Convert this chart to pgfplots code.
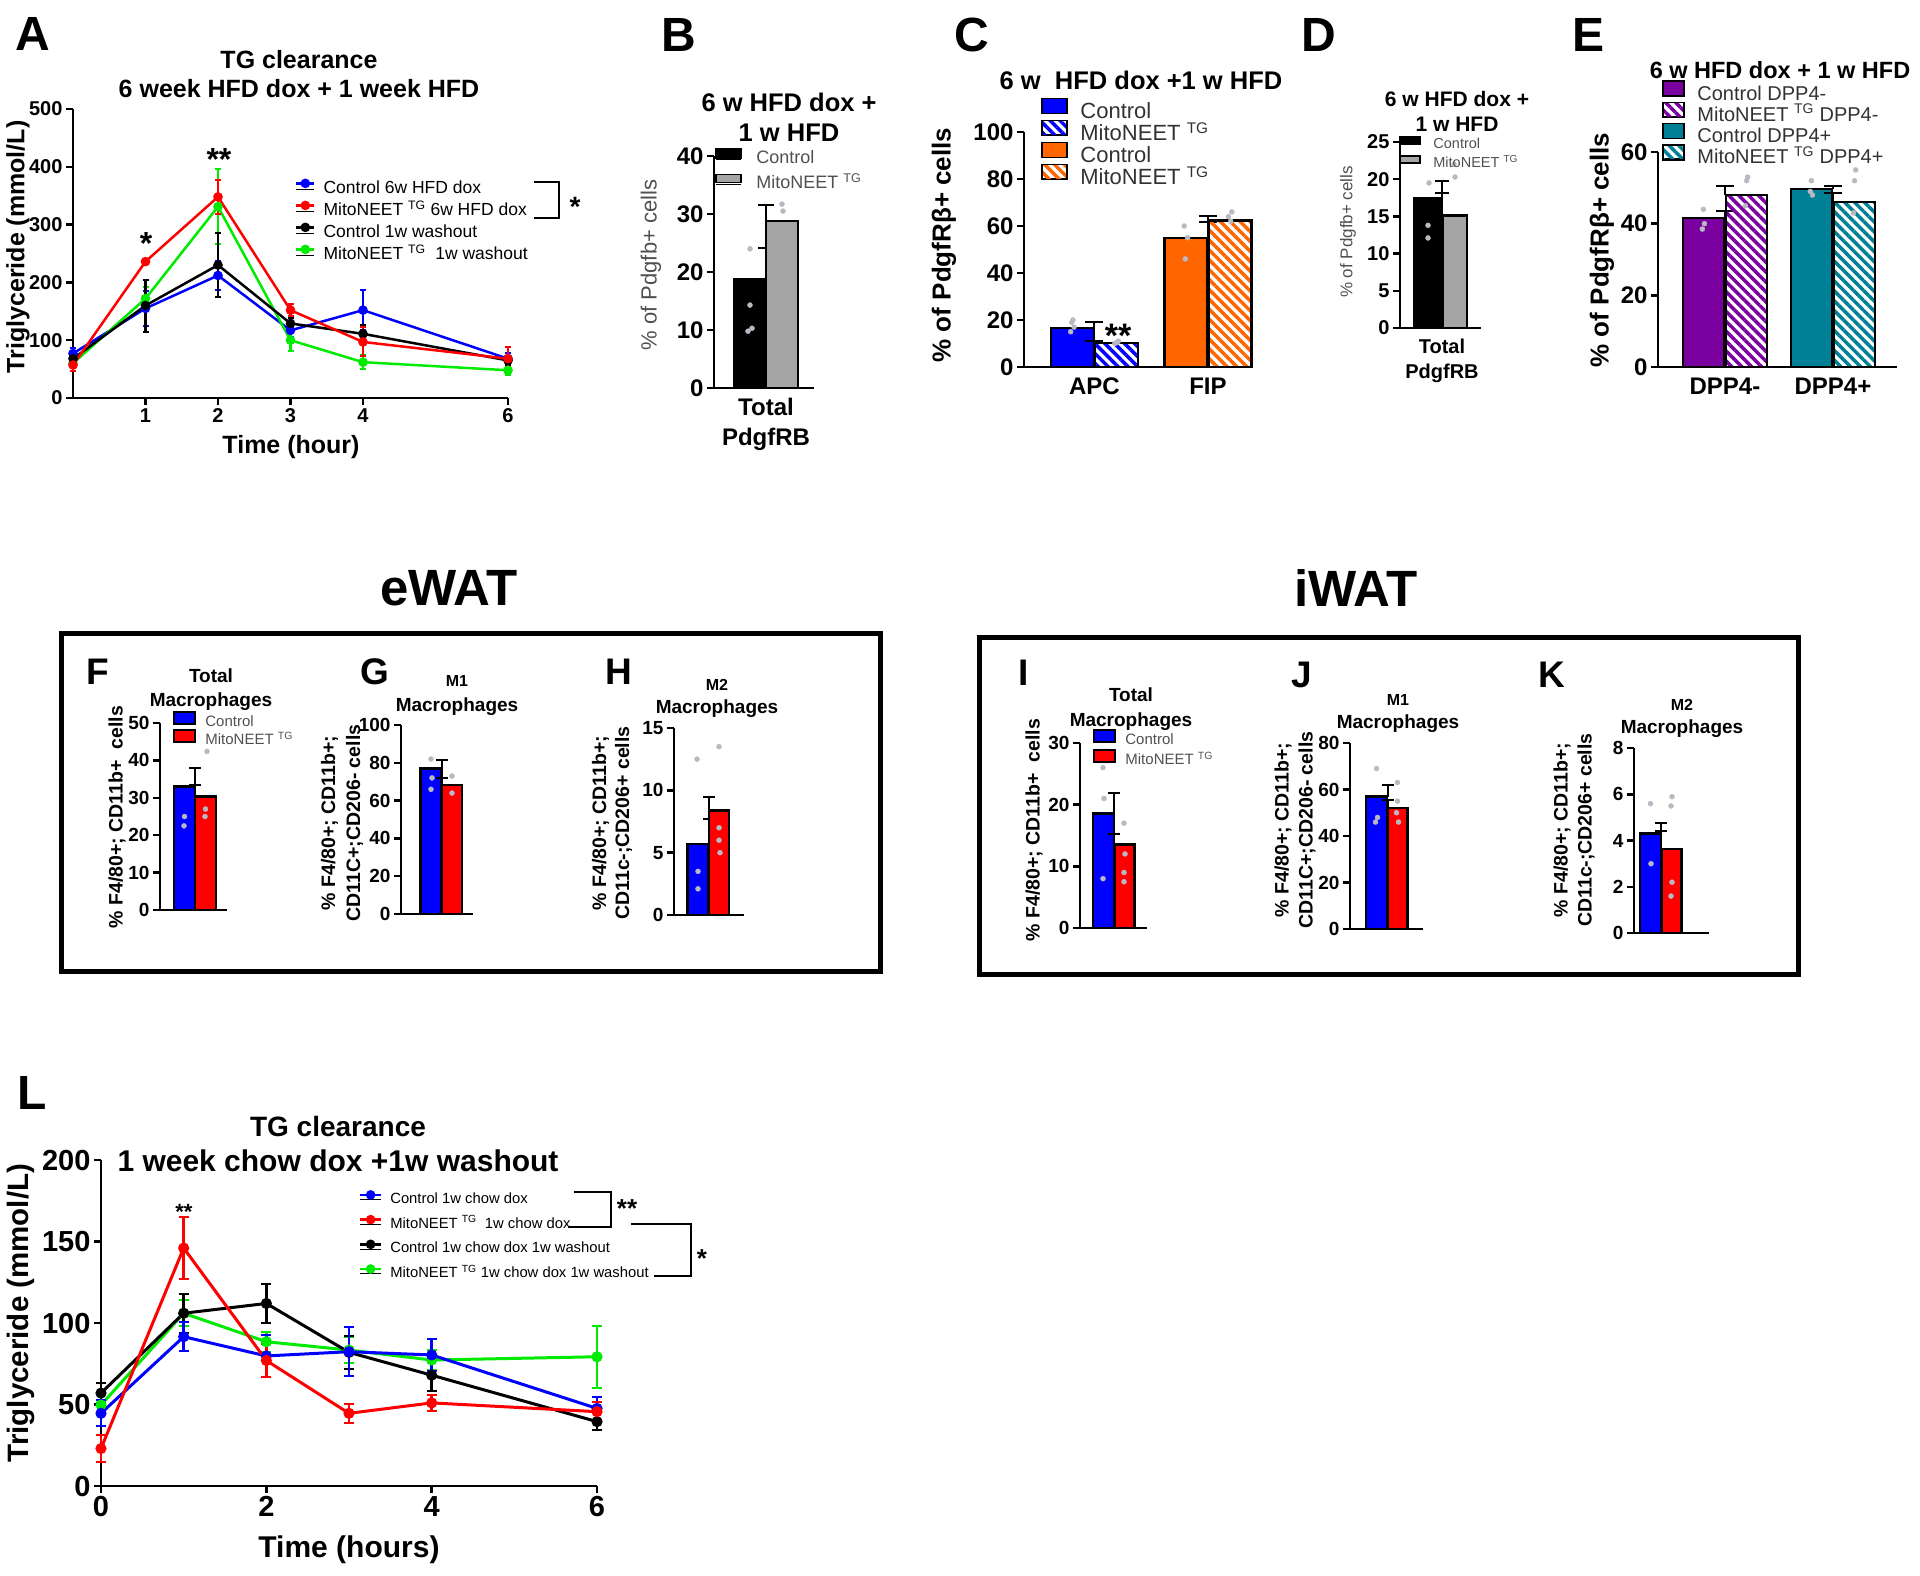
\documentclass[border=0pt]{standalone}
\usepackage{pgfplots}
\pgfplotsset{compat=1.18}
\usepackage{fontspec}
\setmainfont{Liberation Sans}
\usetikzlibrary{patterns.meta}

\definecolor{cblue}{RGB}{0,0,255}
\definecolor{cred}{RGB}{255,0,0}
\definecolor{cgreen}{RGB}{0,235,0}
\definecolor{corange}{RGB}{255,102,0}
\definecolor{cpurple}{RGB}{122,0,160}
\definecolor{cteal}{RGB}{0,128,150}
\definecolor{cgray}{RGB}{165,165,165}
\definecolor{dotc}{RGB}{185,185,195}
\definecolor{lgtxt}{RGB}{80,80,80}
\definecolor{lgdark}{RGB}{50,50,50}

\newcommand{\fz}[2]{\fontsize{#1}{#2}\selectfont}
% legend box: width, ybottom, ytop, style (drawn as overlay so rows depend on text only)
\newcommand{\lgbox}[4]{\addlegendimage{legend image code/.code={\path (0pt,0pt) -- (#1,0pt); \draw[overlay,line width=1.5pt,draw=black,#4] (0pt,#2) rectangle (#1,#3);}}}
% legend line: width, y, style
\newcommand{\lgline}[3]{\addlegendimage{legend image code/.code={\path (0pt,0pt) -- (#1,0pt); \draw[overlay,#3] (0pt,#2) -- (#1,#2); \fill[overlay,#3] (#1/2,#2) circle (3.5pt);}}}

\tikzset{hatch/.style={pattern={Lines[angle=-45,distance=7pt,line width=3.5pt]}, pattern color=#1}}

\pgfplotsset{
  gp/.style={anchor=south west, ymin=0, clip=false,
    axis x line*=bottom, axis y line*=left,
    axis line style={line width=2.5pt, black},
    tick style={line width=2.5pt, black},
    tick align=outside, major tick length=7pt,
    /pgf/number format/assume math mode=true,
    scaled ticks=false},
  gpbar/.style={gp, xtick={0}, xtick style={draw=none}},
  eb/.style={error bars/.cd, y dir=plus, y explicit,
    error bar style={line width=2pt, black},
    error mark options={rotate=90, line width=2pt, black, mark size=#1}},
  ebl/.style={error bars/.cd, y dir=both, y explicit,
    error bar style={line width=2.5pt},
    error mark options={rotate=90, line width=2pt, mark size=#1}},
  lg/.style 2 args={legend style={at={(#1,#2)}, anchor=north west, draw=none, fill=none,
    inner sep=0pt, outer sep=0pt}, legend cell align=left},
  lgfont/.style n args={5}{legend style={font=#1, row sep=#2, nodes={inner sep=0pt, text height=#3, text depth=#4},
    /tikz/every odd column/.append style={column sep=#5}}},
  dots/.style={only marks, mark=*, mark size=2.5pt, color=dotc, forget plot},
  bb/.style n args={3}{ybar, bar width=#1, bar shift=#2, draw=black, line width=2.5pt, forget plot, #3},
}

\begin{document}
\begin{tikzpicture}
\useasboundingbox (0pt,0pt) rectangle (1920pt,-1575pt);

% ---------------- panel letters ----------------
\begin{scope}[every node/.style={font=\bfseries\fz{48}{52}}]
\node at (33pt,-34pt) {A};
\node at (679pt,-35pt) {B};
\node at (972pt,-35pt) {C};
\node at (1319pt,-35pt) {D};
\node at (1588pt,-35pt) {E};
\node at (32pt,-1093pt) {L};
\end{scope}
\begin{scope}[every node/.style={font=\bfseries\fz{37}{40}}]
\node at (98pt,-672pt) {F};
\node at (375pt,-672pt) {G};
\node at (619pt,-672pt) {H};
\node at (1024pt,-673pt) {I};
\node at (1302pt,-675pt) {J};
\node at (1552pt,-675pt) {K};
\end{scope}

% ---------------- Panel A ----------------
\node[align=center, font=\bfseries\fz{25}{29}] at (299pt,-74pt) {TG clearance\\6 week HFD dox + 1 week HFD};
\node[rotate=90, font=\bfseries\fz{25}{28}] at (18pt,-247pt) {Triglyceride (mmol/L)};
\node[font=\bfseries\fz{25}{28}] at (291pt,-447pt) {Time (hour)};
\begin{axis}[gp, at={(73pt,-398pt)}, x=72.5pt, y=0.578pt, xmin=0, xmax=6, ymax=500,
  xtick={1,2,3,4,6}, ytick={0,100,...,500},
  tick label style={font=\bfseries\fz{20}{24}},
  lg={0.513}{0.753}, lgfont={\fz{17.5}{20}}{5pt}{13pt}{4pt}{9pt}]
\lgline{18pt}{5.5pt}{cblue, line width=2.5pt}\addlegendentry{Control 6w HFD dox}
\lgline{18pt}{5.5pt}{cred, line width=2.5pt}\addlegendentry{MitoNEET \textsuperscript{TG} 6w HFD dox}
\lgline{18pt}{5.5pt}{black, line width=2.5pt}\addlegendentry{Control 1w washout}
\lgline{18pt}{5.5pt}{cgreen, line width=2.5pt}\addlegendentry{MitoNEET \textsuperscript{TG}\ \ 1w washout}
\addplot[cblue, line width=2.5pt, mark=*, mark size=3.5pt, forget plot, ebl=3pt] coordinates {
 (0,77) +- (0,10) (1,155) +- (0,30) (2,212) +- (0,25) (3,117) +- (0,12) (4,152) +- (0,35) (6,68) +- (0,10)};
\addplot[cgreen, line width=2.5pt, mark=*, mark size=3.5pt, forget plot, ebl=3pt] coordinates {
 (0,60) +- (0,8) (1,172) +- (0,20) (2,331) +- (0,65) (3,100) +- (0,18) (4,62) +- (0,12) (6,48) +- (0,8)};
\addplot[black, line width=2.5pt, mark=*, mark size=3.5pt, forget plot, ebl=3pt] coordinates {
 (0,68) +- (0,8) (1,160) +- (0,45) (2,230) +- (0,55) (3,129) +- (0,10) (4,111) +- (0,15) (6,65) +- (0,8)};
\addplot[cred, line width=2.5pt, mark=*, mark size=3.5pt, forget plot, ebl=3pt] coordinates {
 (0,57) +- (0,10) (1,236) +- (0,5) (2,348) +- (0,30) (3,152) +- (0,10) (4,97) +- (0,25) (6,68) +- (0,20)};
\end{axis}
\draw[line width=2pt] (534pt,-182pt) -- (559pt,-182pt) -- (559pt,-218pt) -- (534pt,-218pt);
\node[font=\bfseries\fz{28}{30}] at (575pt,-207pt) {*};
\node[font=\bfseries\fz{32}{34}] at (146pt,-243pt) {*};
\node[font=\bfseries\fz{32}{34}] at (219pt,-159pt) {**};

% ---------------- Panel B ----------------
\node[align=center, font=\bfseries\fz{25.5}{30}] at (789pt,-117pt) {6 w HFD dox +\\1 w HFD};
\node[rotate=90, text=lgtxt, font=\fz{22}{26}] at (651pt,-265pt) {\% of Pdgfb+ cells};
\begin{axis}[gpbar, at={(714pt,-388pt)}, x=100pt, y=5.8pt, xmin=-0.52, xmax=0.48, ymax=40,
  ytick={0,10,...,40}, xticklabels={{Total\\PdgfRB}},
  xticklabel style={align=center, font=\bfseries\fz{24}{30}},
  yticklabel style={font=\bfseries\fz{24}{28}},
  lg={0.02}{1.024}, lgfont={\color{lgtxt}\fz{18}{20}}{8pt}{13pt}{4pt}{15pt}]
\lgbox{25pt}{0.4pt}{10.4pt}{fill=black}\addlegendentry{Control}
\lgbox{25pt}{1.4pt}{9.4pt}{fill=cgray}\addlegendentry{MitoNEET \textsuperscript{TG}}
\addplot[bb={32pt}{-16pt}{fill=black}, eb=8pt] coordinates {(0,18.8) +- (0,5.3)};
\addplot[bb={32pt}{16pt}{fill=cgray}, eb=8pt] coordinates {(0,28.8) +- (0,2.7)};
\addplot[dots] coordinates {(-0.16,14.3) (-0.18,9.8) (-0.14,10.3) (-0.16,24) (0.16,31.7) (0.17,30.5)};
\end{axis}

% ---------------- Panel C ----------------
\node[font=\bfseries\fz{25.5}{28}] at (1141pt,-80pt) {6 w\ \ HFD dox +1 w HFD};
\node[rotate=90, font=\bfseries\fz{26}{28}] at (944pt,-245pt) {\% of PdgfRβ+ cells};
\begin{axis}[gpbar, at={(1024pt,-367pt)}, x=113.5pt, y=2.35pt, xmin=-0.621, xmax=1.388, ymax=100,
  ytick={0,20,...,100}, xtick={0,1}, xticklabels={APC,FIP},
  tick label style={font=\bfseries\fz{24}{28}},
  lg={0.079}{1.121}, lgfont={\color{lgdark}\fz{22}{24}}{4pt}{15pt}{3pt}{13pt}]
\lgbox{25pt}{-0.9pt}{14.1pt}{fill=cblue}\addlegendentry{Control}
\lgbox{25pt}{-0.9pt}{14.1pt}{hatch=cblue}\addlegendentry{MitoNEET \textsuperscript{TG}}
\lgbox{25pt}{-0.9pt}{14.1pt}{fill=corange}\addlegendentry{Control}
\lgbox{25pt}{-0.9pt}{14.1pt}{hatch=corange}\addlegendentry{MitoNEET \textsuperscript{TG}}
\addplot[bb={43pt}{-22pt}{fill=cblue}, eb=9pt] coordinates {(0,16.6) +- (0,2.4)};
\addplot[bb={43pt}{22pt}{hatch=cblue}, eb=9pt] coordinates {(0,10.2) +- (0,1)};
\addplot[bb={43pt}{-22pt}{fill=corange}, eb=9pt] coordinates {(1,55) +- (0,6.5)};
\addplot[bb={43pt}{22pt}{hatch=corange}, eb=9pt] coordinates {(1,62.3) +- (0,2)};
\addplot[dots] coordinates {(-0.21,15) (-0.18,17) (-0.2,19) (-0.19,20) (0.18,10) (0.21,11) (0.2,10.5)
  (0.8,46) (0.82,55) (0.79,60) (1.2,62) (1.18,64) (1.21,66)};
\end{axis}
\node[font=\bfseries\fz{34}{36}] at (1118pt,-336pt) {**};

% ---------------- Panel D ----------------
\node[align=center, font=\bfseries\fz{21}{25}] at (1457pt,-111pt) {6 w HFD dox +\\1 w HFD};
\node[rotate=90, text=lgtxt, font=\fz{17}{20}] at (1348pt,-232pt) {\% of Pdgfb+ cells};
\begin{axis}[gpbar, at={(1400pt,-328pt)}, x=100pt, y=7.44pt, xmin=-0.42, xmax=0.39, ymax=25,
  ytick={0,5,...,25}, xticklabels={{Total\\PdgfRB}},
  xticklabel style={align=center, font=\bfseries\fz{20}{25}},
  yticklabel style={font=\bfseries\fz{20}{24}},
  lg={0}{1.022}, lgfont={\color{lgtxt}\fz{14.5}{16}}{5.5pt}{10.5pt}{3pt}{13pt}]
\lgbox{20pt}{0.9pt}{7.9pt}{fill=black}\addlegendentry{Control}
\lgbox{20pt}{0.9pt}{7.9pt}{fill=cgray}\addlegendentry{MitoNEET \textsuperscript{TG}}
\addplot[bb={28pt}{-14pt}{fill=black}, eb=7pt] coordinates {(0,17.5) +- (0,2.3)};
\addplot[bb={24pt}{13pt}{fill=cgray}, eb=7pt] coordinates {(0,15.1) +- (0,3.0)};
\addplot[dots] coordinates {(-0.14,13.8) (-0.14,12.1) (-0.13,19.5) (0.13,20.3) (0.12,22)};
\end{axis}

% ---------------- Panel E ----------------
\node[font=\bfseries\fz{23.5}{26}] at (1780pt,-70pt) {6 w HFD dox + 1 w HFD};
\node[rotate=90, font=\bfseries\fz{26}{28}] at (1602pt,-250pt) {\% of PdgfRβ+ cells};
\begin{axis}[gpbar, at={(1658pt,-367pt)}, x=108pt, y=3.583pt, xmin=-0.62, xmax=1.59, ymax=60,
  ytick={0,20,40,60}, xtick={0,1}, xticklabels={DPP4-,DPP4+},
  tick label style={font=\bfseries\fz{24}{28}},
  lg={0.021}{1.307}, lgfont={\color{lgdark}\fz{20}{22}}{4.3pt}{14pt}{3pt}{13pt}]
\lgbox{21pt}{-1.5pt}{13.5pt}{fill=cpurple}\addlegendentry{Control DPP4-}
\lgbox{21pt}{-1.5pt}{13.5pt}{hatch=cpurple}\addlegendentry{MitoNEET \textsuperscript{TG} DPP4-}
\lgbox{21pt}{-1.5pt}{13.5pt}{fill=cteal}\addlegendentry{Control DPP4+}
\lgbox{21pt}{-1.5pt}{13.5pt}{hatch=cteal}\addlegendentry{MitoNEET \textsuperscript{TG} DPP4+}
\addplot[bb={41pt}{-21.5pt}{fill=cpurple}, eb=9pt] coordinates {(0,41.6) +- (0,2)};
\addplot[bb={41pt}{21.5pt}{hatch=cpurple}, eb=9pt] coordinates {(0,48) +- (0,2.5)};
\addplot[bb={41pt}{-21.5pt}{fill=cteal}, eb=9pt] coordinates {(1,49.7) +- (0,0.8)};
\addplot[bb={41pt}{21.5pt}{hatch=cteal}, eb=9pt] coordinates {(1,46) +- (0,2.5)};
\addplot[dots] coordinates {(-0.2,44) (-0.19,40) (-0.21,38.5) (0.2,52) (0.19,45) (0.21,53)
  (0.8,52) (0.79,49) (0.81,48) (1.2,52) (1.21,55) (1.19,43)};
\end{axis}

% ---------------- eWAT / iWAT boxes ----------------
\node[font=\bfseries\fz{51}{54}] at (449pt,-588pt) {eWAT};
\node[font=\bfseries\fz{51}{54}] at (1356pt,-588pt) {iWAT};
\draw[line width=5pt] (61pt,-633pt) rectangle (880pt,-971pt);
\draw[line width=5pt] (979pt,-637pt) rectangle (1798pt,-974pt);

% titles F-K
\node[align=center, font=\bfseries\fz{19}{24}] at (211pt,-690pt) {Total\\Macrophages};
\node[align=center, font=\bfseries\fz{19}{25}] at (457pt,-695pt) {{\fz{16}{25}M1}\\Macrophages};
\node[align=center, font=\bfseries\fz{19}{23}] at (717pt,-698pt) {{\fz{16}{23}M2}\\Macrophages};
\node[align=center, font=\bfseries\fz{19}{25}] at (1131pt,-709pt) {Total\\Macrophages};
\node[align=center, font=\bfseries\fz{19}{23}] at (1398pt,-713pt) {{\fz{16}{23}M1}\\Macrophages};
\node[align=center, font=\bfseries\fz{19}{23}] at (1682pt,-718pt) {{\fz{16}{23}M2}\\Macrophages};
% y labels F-K
\node[rotate=90, font=\bfseries\fz{19.5}{24}] at (117pt,-817pt) {\% F4/80+; CD11b+\ \ cells};
\node[rotate=90, align=center, font=\bfseries\fz{19.5}{25}] at (342pt,-823pt) {\% F4/80+; CD11b+;\\CD11C+;CD206- cells};
\node[rotate=90, align=center, font=\bfseries\fz{19.5}{23}] at (612pt,-823pt) {\% F4/80+; CD11b+;\\CD11c-;CD206+ cells};
\node[rotate=90, font=\bfseries\fz{19.5}{24}] at (1034pt,-830pt) {\% F4/80+; CD11b+\ \ cells};
\node[rotate=90, align=center, font=\bfseries\fz{19.5}{24}] at (1295pt,-830pt) {\% F4/80+; CD11b+;\\CD11C+;CD206- cells};
\node[rotate=90, align=center, font=\bfseries\fz{19.5}{24}] at (1574pt,-830pt) {\% F4/80+; CD11b+;\\CD11c-;CD206+ cells};

% ---------------- Panel F ----------------
\begin{axis}[gp, at={(160pt,-910pt)}, x=100pt, y=3.74pt, xmin=-0.35, xmax=0.32, ymax=50,
  ytick={0,10,...,50}, xtick=\empty, tick label style={font=\bfseries\fz{19}{22}},
  lg={0.209}{1.040}, lgfont={\color{lgtxt}\fz{15}{17}}{4pt}{11pt}{3pt}{10pt}]
\lgbox{21pt}{-1.5pt}{10.5pt}{fill=cblue}\addlegendentry{Control}
\lgbox{21pt}{-1.5pt}{10.5pt}{fill=cred}\addlegendentry{MitoNEET \textsuperscript{TG}}
\addplot[bb={21pt}{-10.5pt}{fill=cblue}, eb=6pt] coordinates {(0,33) +- (0,4.9)};
\addplot[bb={21pt}{10.5pt}{fill=cred}, eb=6pt] coordinates {(0,30.4) +- (0,3.1)};
\addplot[dots] coordinates {(-0.105,25) (-0.11,22.5) (0.105,27) (0.1,25) (0.12,42.4)};
\end{axis}

% ---------------- Panel G ----------------
\begin{axis}[gp, at={(401pt,-914pt)}, x=100pt, y=1.89pt, xmin=-0.41, xmax=0.31, ymax=100,
  ytick={0,20,...,100}, xtick=\empty, tick label style={font=\bfseries\fz{19}{22}}]
\addplot[bb={21pt}{-11pt}{fill=cblue}, eb=6pt] coordinates {(0,77) +- (0,4.5)};
\addplot[bb={20pt}{10pt}{fill=cred}, eb=6pt] coordinates {(0,68.3) +- (0,3.5)};
\addplot[dots] coordinates {(-0.11,82) (-0.1,72) (-0.11,66) (0.1,73) (0.1,64)};
\end{axis}

% ---------------- Panel H ----------------
\begin{axis}[gp, at={(674pt,-915pt)}, x=100pt, y=12.47pt, xmin=-0.35, xmax=0.35, ymax=15,
  ytick={0,5,10,15}, xtick=\empty, tick label style={font=\bfseries\fz{19}{22}}]
\addplot[bb={21pt}{-11pt}{fill=cblue}, eb=6pt] coordinates {(0,5.7) +- (0,2.0)};
\addplot[bb={20pt}{10pt}{fill=cred}, eb=6pt] coordinates {(0,8.4) +- (0,1.1)};
\addplot[dots] coordinates {(-0.12,12.5) (-0.11,3.5) (-0.11,2.1) (0.1,13.5) (0.1,7) (0.1,6) (0.11,5)};
\end{axis}

% ---------------- Panel I ----------------
\begin{axis}[gp, at={(1080pt,-928pt)}, x=100pt, y=6.17pt, xmin=-0.34, xmax=0.33, ymax=30,
  ytick={0,10,...,30}, xtick=\empty, tick label style={font=\bfseries\fz{19}{22}},
  lg={0.209}{1.051}, lgfont={\color{lgtxt}\fz{15}{17}}{6pt}{11pt}{3pt}{10pt}]
\lgbox{21pt}{-1.5pt}{10.5pt}{fill=cblue}\addlegendentry{Control}
\lgbox{21pt}{-1.5pt}{10.5pt}{fill=cred}\addlegendentry{MitoNEET \textsuperscript{TG}}
\addplot[bb={21pt}{-10.5pt}{fill=cblue}, eb=6pt] coordinates {(0,18.6) +- (0,3.3)};
\addplot[bb={20pt}{10.5pt}{fill=cred}, eb=6pt] coordinates {(0,13.5) +- (0,1.7)};
\addplot[dots] coordinates {(-0.11,26) (-0.1,21) (-0.11,8) (0.1,17) (0.11,12) (0.1,9) (0.1,7.5)};
\end{axis}

% ---------------- Panel J ----------------
\begin{axis}[gp, at={(1350pt,-929pt)}, x=100pt, y=2.325pt, xmin=-0.375, xmax=0.355, ymax=80,
  ytick={0,20,...,80}, xtick=\empty, tick label style={font=\bfseries\fz{19}{22}}]
\addplot[bb={21pt}{-11pt}{fill=cblue}, eb=6pt] coordinates {(0,56.9) +- (0,5)};
\addplot[bb={20pt}{10pt}{fill=cred}, eb=6pt] coordinates {(0,52.1) +- (0,3.6)};
\addplot[dots] coordinates {(-0.11,69) (-0.1,48) (-0.12,46) (0.1,63) (0.1,55) (0.11,46) (0.09,50)};
\end{axis}

% ---------------- Panel K ----------------
\begin{axis}[gp, at={(1634pt,-933pt)}, x=100pt, y=23.1pt, xmin=-0.27, xmax=0.48, ymax=8,
  ytick={0,2,...,8}, xtick=\empty, tick label style={font=\bfseries\fz{19}{22}}]
\addplot[bb={21pt}{-10.5pt}{fill=cblue}, eb=6pt] coordinates {(0,4.3) +- (0,0.46)};
\addplot[bb={20pt}{10.5pt}{fill=cred}, eb=6pt] coordinates {(0,3.63) +- (0,0.77)};
\addplot[dots] coordinates {(-0.105,5.6) (-0.1,3) (0.11,5.9) (0.1,5.5) (0.11,2.2) (0.1,1.6)};
\end{axis}

% ---------------- Panel L ----------------
\node[align=center, font=\bfseries\fz{28}{35}] at (338pt,-1144pt) {TG clearance\\{\fz{30}{35}1 week chow dox +1w washout}};
\node[rotate=90, font=\bfseries\fz{29.5}{32}] at (21pt,-1313pt) {Triglyceride (mmol/L)};
\node[font=\bfseries\fz{30}{32}] at (349pt,-1550pt) {Time (hours)};
\begin{axis}[gp, at={(101pt,-1486pt)}, x=82.67pt, y=1.63pt, xmin=0, xmax=6, ymax=200,
  xtick={0,2,4,6}, ytick={0,50,...,200},
  tick label style={font=\bfseries\fz{29}{32}},
  lg={0.522}{0.9006}, lgfont={\fz{14.8}{16}}{10.7pt}{11pt}{3pt}{9pt}]
\lgline{21pt}{4.5pt}{cblue, line width=2.5pt}\addlegendentry{Control 1w chow dox}
\lgline{21pt}{4.5pt}{cred, line width=2.5pt}\addlegendentry{MitoNEET \textsuperscript{TG}\ \ 1w chow dox}
\lgline{21pt}{4.5pt}{black, line width=2.5pt}\addlegendentry{Control 1w chow dox 1w washout}
\lgline{21pt}{4.5pt}{cgreen, line width=2.5pt}\addlegendentry{MitoNEET \textsuperscript{TG} 1w chow dox 1w washout}
\addplot[cgreen, line width=3pt, mark=*, mark size=4pt, forget plot, ebl=5pt] coordinates {
 (0,49.7) +- (0,6) (1,106) +- (0,8) (2,88.5) +- (0,6) (3,83.4) +- (0,8) (4,77.3) +- (0,6) (6,79.3) +- (0,19)};
\addplot[black, line width=3pt, mark=*, mark size=4pt, forget plot, ebl=5pt] coordinates {
 (0,57) +- (0,6) (1,106) +- (0,12) (2,112) +- (0,12) (3,82) +- (0,10) (4,68) +- (0,10) (6,39.5) +- (0,5)};
\addplot[cblue, line width=3pt, mark=*, mark size=4pt, forget plot, ebl=5pt] coordinates {
 (0,44.6) +- (0,8) (1,91.6) +- (0,9) (2,79.8) +- (0,13) (3,82.4) +- (0,15) (4,80.4) +- (0,10) (6,47.6) +- (0,7)};
\addplot[cred, line width=3pt, mark=*, mark size=4pt, forget plot, ebl=5pt] coordinates {
 (0,23) +- (0,8) (1,146) +- (0,19) (2,77) +- (0,10) (3,44.6) +- (0,6) (4,51) +- (0,5) (6,45.6) +- (0,6)};
\end{axis}
\node[font=\bfseries\fz{22}{24}] at (184pt,-1212pt) {**};
\draw[line width=2pt] (574pt,-1192pt) -- (611pt,-1192pt) -- (611pt,-1227pt) -- (568pt,-1227pt);
\node[font=\bfseries\fz{26}{28}] at (627pt,-1209pt) {**};
\draw[line width=2pt] (631pt,-1224pt) -- (691pt,-1224pt) -- (691pt,-1276pt) -- (654pt,-1276pt);
\node[font=\bfseries\fz{26}{28}] at (702pt,-1259pt) {*};

\end{tikzpicture}
\end{document}
